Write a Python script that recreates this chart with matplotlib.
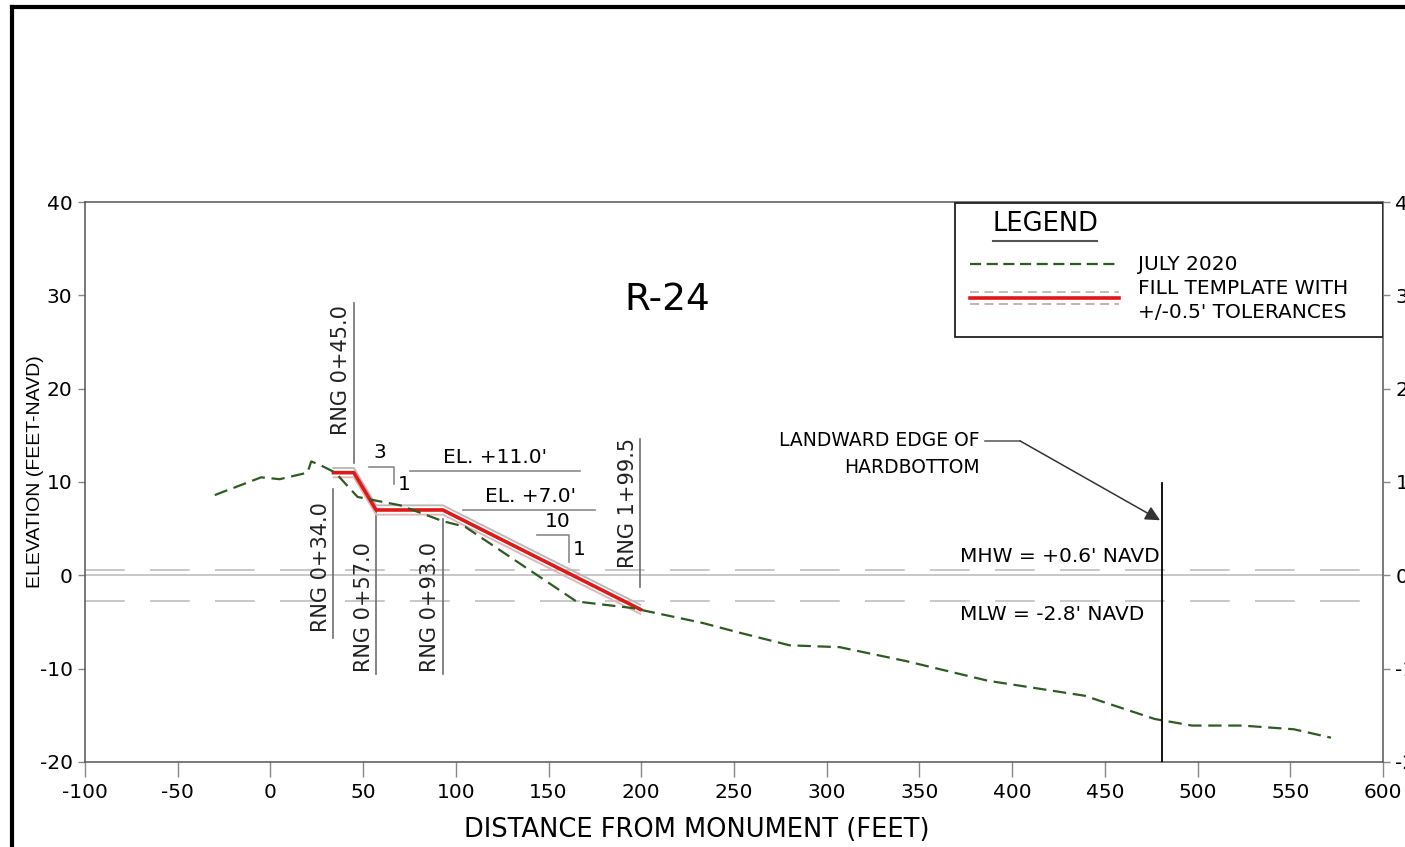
import matplotlib.pyplot as plt
from matplotlib.patches import Rectangle
from matplotlib.lines import Line2D
import numpy as np

plt.rcParams["axes.unicode_minus"] = False

# ---------------- Data ----------------
# July 2020 surveyed profile
profile_x = [-30, -5, 5, 20, 22, 27, 35, 47, 57, 70, 93, 105, 165, 195,
             233, 252, 280, 307, 343, 387, 439, 477, 497, 524, 552, 572]
profile_y = [8.6, 10.5, 10.3, 11.0, 12.2, 11.8, 11.0, 8.4, 8.0, 7.5, 5.8, 5.2, -2.8, -3.5,
             -5.1, -6.1, -7.5, -7.7, -9.2, -11.3, -12.9, -15.4, -16.1, -16.1, -16.5, -17.4]

# fill template
template_x = [34, 45, 57, 93, 199.5]
template_y = [11.0, 11.0, 7.0, 7.0, -3.65]
tolerance = 0.5

# range stations
rng_x = [34, 45, 57, 93, 199.5]
rng_labels = ["RNG 0+34.0", "RNG 0+45.0", "RNG 0+57.0", "RNG 0+93.0", "RNG 1+99.5"]

mhw = 0.6
mlw = -2.8
hardbottom_x = 481

x_ticks = list(range(-100, 601, 50))
y_ticks = list(range(-20, 41, 10))

GREEN = "#2f5a22"
RED = "#e01818"
GRAY = "#8a8a8a"
LIGHT = "#c4c4c4"
SANS = ["DejaVu Sans"]
NARROW = ["Liberation Sans", "DejaVu Sans"]

fig = plt.figure(figsize=(14.05, 8.47), dpi=100)
ax = fig.add_axes([0.0605, 0.1004, 0.9238, 0.6611])
ax.set_xlim(-100, 600)
ax.set_ylim(-20, 40)

# water levels
ax.axhline(0, color=LIGHT, lw=1.3, zorder=1)
ax.axhline(mhw, color=LIGHT, lw=1.3, dashes=(22, 14), zorder=1)
ax.axhline(mlw, color=LIGHT, lw=1.3, dashes=(22, 14), zorder=1)

# template with tolerances
ty = np.array(template_y)
ax.plot(template_x, ty + tolerance, color="#b8b8b8", lw=1.3, zorder=3)
ax.plot(template_x, ty - tolerance, color="#e6b4b4", lw=1.3, zorder=3)
ax.plot(template_x, ty, color=RED, lw=2.6, zorder=4)

# profile
ax.plot(profile_x, profile_y, color=GREEN, lw=1.6, dashes=(6, 3), zorder=5)

# range lines + labels
rng_extent = [(9.2, -6.7, -6.1), (29.2, 12.0, 15.0), (7.0, -10.6, -10.4),
              (6.0, -10.6, -10.4), (14.6, -1.2, 0.75)]
for xr, lab, (top, bot, txt_y) in zip(rng_x, rng_labels, rng_extent):
    ax.plot([xr, xr], [bot, top], color="#6e6e6e", lw=1.2, zorder=2)
    ax.text(xr - 1.4, txt_y, lab, rotation=90, rotation_mode="anchor",
            ha="left", va="bottom", fontsize=15, family=SANS, color="#222222")

# elevation callouts
ax.plot([75.5, 167], [11.15, 11.15], color=GRAY, lw=1.2)
ax.text(121, 11.6, "EL. +11.0'", ha="center", va="bottom", fontsize=14.5, family=SANS)
ax.plot([104, 175], [6.97, 6.97], color=GRAY, lw=1.2)
ax.text(140, 7.4, "EL. +7.0'", ha="center", va="bottom", fontsize=14.5, family=SANS)

# slope markers
ax.plot([53.4, 66.8, 66.8], [11.6, 11.6, 9.75], color=GRAY, lw=1.2)
ax.text(59, 12.1, "3", ha="center", va="bottom", fontsize=14.5, family=SANS)
ax.text(68.5, 9.7, "1", ha="left", va="center", fontsize=14.5, family=SANS)
ax.plot([143.9, 161.2, 161.2], [4.29, 4.29, 1.4], color=GRAY, lw=1.2)
ax.text(155, 4.7, "10", ha="center", va="bottom", fontsize=14.5, family=SANS)
ax.text(163, 2.8, "1", ha="left", va="center", fontsize=14.5, family=SANS)

# title
ax.text(214, 29.5, "R-24", ha="center", va="center", fontsize=27, family=SANS)

# hardbottom
ax.plot([hardbottom_x, hardbottom_x], [-20, 9.9], color="black", lw=1.3, zorder=6)
ax.text(382.7, 14.4, "LANDWARD EDGE OF", ha="right", va="center", fontsize=13.5, family=SANS)
ax.text(382.7, 11.6, "HARDBOTTOM", ha="right", va="center", fontsize=13.5, family=SANS)
ax.plot([385.4, 404.3], [14.4, 14.4], color="#555555", lw=1.1)
ax.annotate("", xy=(479.8, 5.9), xytext=(404.3, 14.4),
            arrowprops=dict(arrowstyle="-|>", color="#333333", lw=1.1,
                            mutation_scale=22, shrinkA=0, shrinkB=0))

ax.text(372, 2.0, "MHW = +0.6' NAVD", ha="left", va="center", fontsize=14.5, family=SANS)
ax.text(372, -4.2, "MLW = -2.8' NAVD", ha="left", va="center", fontsize=14.5, family=SANS)

# legend box
tr = ax.transAxes
ax.add_patch(Rectangle((0.670, 0.759), 0.330, 0.239, transform=tr, fill=False,
                       edgecolor="#222222", lw=1.3, zorder=7))
ax.text(0.7396, 0.961, "LEGEND", transform=tr, ha="center", va="center", fontsize=18.5, family=SANS)
ax.add_line(Line2D([0.6995, 0.7797], [0.930, 0.930], transform=tr, color="#555555", lw=1.5))
ax.add_line(Line2D([0.682, 0.797], [0.889, 0.889], transform=tr, color=GREEN, lw=1.6, dashes=(5, 2.5)))
ax.add_line(Line2D([0.682, 0.797], [0.839, 0.839], transform=tr, color="#b8b8b8", lw=1.3, dashes=(5, 3)))
ax.add_line(Line2D([0.682, 0.797], [0.818, 0.818], transform=tr, color="#c9a8a8", lw=1.3, dashes=(5, 3)))
ax.add_line(Line2D([0.682, 0.797], [0.829, 0.829], transform=tr, color=RED, lw=2.6))
ax.text(0.811, 0.889, "JULY 2020", transform=tr, ha="left", va="center", fontsize=14.5, family=SANS)
ax.text(0.811, 0.846, "FILL TEMPLATE WITH", transform=tr, ha="left", va="center", fontsize=14.5, family=SANS)
ax.text(0.811, 0.802, "+/-0.5' TOLERANCES", transform=tr, ha="left", va="center", fontsize=14.5, family=SANS)

# axes styling
ax.set_xticks(x_ticks)
ax.set_yticks(y_ticks)
for s in ax.spines.values():
    s.set_color("#555555")
    s.set_linewidth(1.1)
ax.tick_params(axis="x", length=11, width=1, color="#888888", labelsize=14.5, pad=4)
ax.tick_params(axis="y", length=5, width=1, color="#888888", labelsize=14.5, pad=4)
for lab in ax.get_xticklabels() + ax.get_yticklabels():
    lab.set_family(SANS)

# right-hand elevation scale (cut by the sheet edge, as in the drawing)
ax2 = ax.twinx()
ax2.set_ylim(-20, 40)
ax2.set_yticks(y_ticks)
ax2.tick_params(axis="y", length=5, width=1, color="#888888", labelsize=14.5, pad=4)
for s in ax2.spines.values():
    s.set_visible(False)

fig.text(0.496, 0.020, "DISTANCE FROM MONUMENT (FEET)", ha="center", va="center",
         fontsize=18.5, family=SANS)
fig.text(0.025, 0.443, "ELEVATION (FEET-NAVD)", rotation=90, ha="center", va="center",
         fontsize=14, family=NARROW)

# drawing border
fig.add_artist(Line2D([0.0085, 0.0085], [0, 0.992], transform=fig.transFigure, color="black", lw=3))
fig.add_artist(Line2D([0.0085, 1.0], [0.992, 0.992], transform=fig.transFigure, color="black", lw=3))

fig.savefig("out.png", dpi=100)
